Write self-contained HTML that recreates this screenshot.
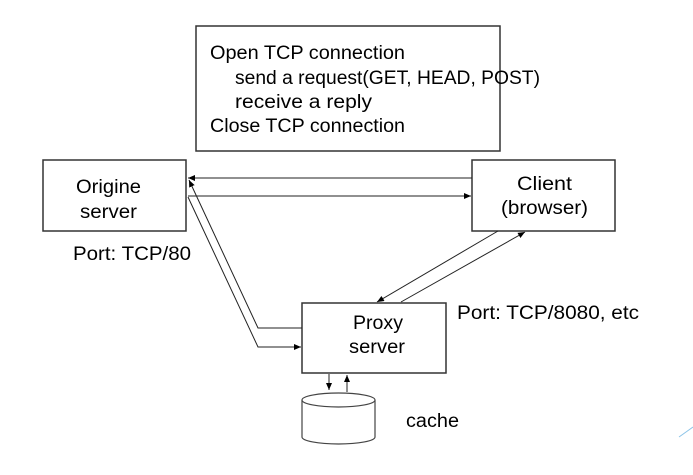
<!DOCTYPE html>
<html><head><meta charset="utf-8"><style>
html,body{margin:0;padding:0;background:#fff;}
svg{display:block;}
text{font-family:"Liberation Sans",sans-serif;font-size:19px;fill:#000;}
</style></head><body>
<svg width="693" height="475" viewBox="0 0 693 475" xmlns="http://www.w3.org/2000/svg">
<defs>
<marker id="a" markerWidth="8" markerHeight="8" refX="7" refY="3" orient="auto" markerUnits="userSpaceOnUse">
<path d="M0,0 L7,3 L0,6 z" fill="#000"/></marker>
</defs>
<g fill="none" stroke="#333" stroke-width="1.5">
<rect x="196" y="26" width="304" height="125"/>
<rect x="43" y="160" width="143" height="71"/>
<rect x="472" y="160" width="143" height="71"/>
<rect x="302" y="303" width="144" height="70"/>
</g>
<g stroke="#222" stroke-width="1" fill="none">
<line x1="472" y1="178" x2="188" y2="178" marker-end="url(#a)"/>
<line x1="188" y1="196" x2="471" y2="196" marker-end="url(#a)"/>
<polyline points="302,328 258,328 189,180" marker-end="url(#a)"/>
<polyline points="188,197 258,347 301,347" marker-end="url(#a)"/>
<line x1="498" y1="231" x2="377" y2="302" marker-end="url(#a)"/>
<line x1="401" y1="302" x2="525" y2="232" marker-end="url(#a)"/>
<line x1="329" y1="374" x2="329" y2="390" marker-end="url(#a)"/>
<line x1="347" y1="392" x2="347" y2="375" marker-end="url(#a)"/>
</g>
<g stroke="#444" stroke-width="1.2" fill="#fff">
<path d="M302,400 L302,437 A36.5,7 0 0 0 375,437 L375,400"/>
<ellipse cx="338.5" cy="400" rx="36.5" ry="7"/>
</g>
<text x="210" y="59" textLength="195" lengthAdjust="spacingAndGlyphs">Open TCP connection</text>
<text x="235" y="84" textLength="305" lengthAdjust="spacingAndGlyphs">send a request(GET, HEAD, POST)</text>
<text x="235" y="108" textLength="137" lengthAdjust="spacingAndGlyphs">receive a reply</text>
<text x="210" y="132" textLength="195" lengthAdjust="spacingAndGlyphs">Close TCP connection</text>
<text x="76" y="193" textLength="65" lengthAdjust="spacingAndGlyphs">Origine</text>
<text x="80" y="218" textLength="57" lengthAdjust="spacingAndGlyphs">server</text>
<text x="517" y="190" textLength="55" lengthAdjust="spacingAndGlyphs">Client</text>
<text x="501" y="214" textLength="87" lengthAdjust="spacingAndGlyphs">(browser)</text>
<text x="353" y="329" textLength="50" lengthAdjust="spacingAndGlyphs">Proxy</text>
<text x="349" y="353" textLength="56" lengthAdjust="spacingAndGlyphs">server</text>
<text x="73" y="260" textLength="118" lengthAdjust="spacingAndGlyphs">Port: TCP/80</text>
<text x="457" y="319" textLength="182" lengthAdjust="spacingAndGlyphs">Port: TCP/8080, etc</text>
<text x="406" y="427" textLength="53" lengthAdjust="spacingAndGlyphs">cache</text>
<line x1="679" y1="437" x2="693" y2="427" stroke="#8cc4e8" stroke-width="1"/>
</svg>
</body></html>
